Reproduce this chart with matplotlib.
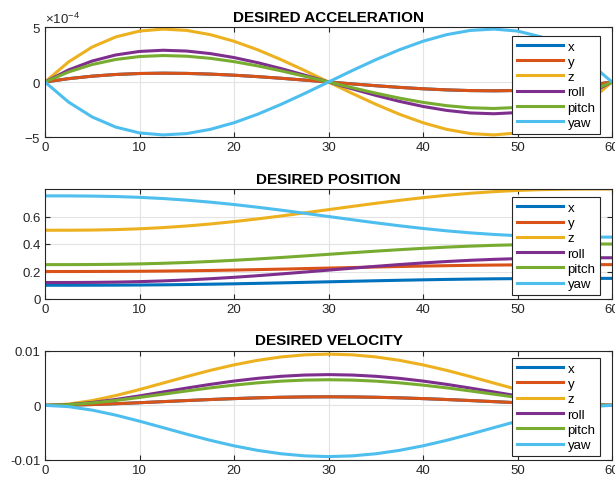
import numpy as np
import matplotlib
matplotlib.use("Agg")
import matplotlib.pyplot as plt
from matplotlib.ticker import ScalarFormatter, FormatStrFormatter

plt.rcParams['font.family'] = ['Liberation Sans', 'DejaVu Sans']
plt.rcParams['axes.unicode_minus'] = False
plt.rcParams['mathtext.fontset'] = 'custom'
plt.rcParams['mathtext.rm'] = 'Liberation Sans'
plt.rcParams['mathtext.it'] = 'Liberation Sans:italic'

# time samples (s)
t = [0, 2.5, 5, 7.5, 10, 12.5, 15, 17.5, 20, 22.5, 25, 27.5, 30,
     32.5, 35, 37.5, 40, 42.5, 45, 47.5, 50, 52.5, 55, 57.5, 60]

labels = ['x', 'y', 'z', 'roll', 'pitch', 'yaw']
colors = ['#0072BD', '#D95319', '#EDB120', '#7E2F8E', '#77AC30', '#4DBEEE']

# desired acceleration
acc_x = [0, 0.305e-4, 0.530e-4, 0.684e-4, 0.772e-4, 0.802e-4, 0.781e-4, 0.717e-4, 0.617e-4,
         0.488e-4, 0.338e-4, 0.172e-4, 0, -0.172e-4, -0.338e-4, -0.488e-4, -0.617e-4,
         -0.717e-4, -0.781e-4, -0.802e-4, -0.772e-4, -0.684e-4, -0.530e-4, -0.305e-4, 0]
acc_y = list(acc_x)
acc_z = [0, 1.830e-4, 3.183e-4, 4.102e-4, 4.630e-4, 4.810e-4, 4.688e-4, 4.304e-4, 3.704e-4,
         2.930e-4, 2.025e-4, 1.034e-4, 0, -1.034e-4, -2.025e-4, -2.930e-4, -3.704e-4,
         -4.304e-4, -4.688e-4, -4.810e-4, -4.630e-4, -4.102e-4, -3.183e-4, -1.830e-4, 0]
acc_roll = [0, 1.098e-4, 1.910e-4, 2.461e-4, 2.778e-4, 2.886e-4, 2.813e-4, 2.582e-4, 2.222e-4,
            1.758e-4, 1.215e-4, 0.621e-4, 0, -0.621e-4, -1.215e-4, -1.758e-4, -2.222e-4,
            -2.582e-4, -2.813e-4, -2.886e-4, -2.778e-4, -2.461e-4, -1.910e-4, -1.098e-4, 0]
acc_pitch = [0, 0.915e-4, 1.591e-4, 2.051e-4, 2.315e-4, 2.405e-4, 2.344e-4, 2.152e-4, 1.852e-4,
             1.465e-4, 1.013e-4, 0.517e-4, 0, -0.517e-4, -1.013e-4, -1.465e-4, -1.852e-4,
             -2.152e-4, -2.344e-4, -2.405e-4, -2.315e-4, -2.051e-4, -1.591e-4, -0.915e-4, 0]
acc_yaw = [0, -1.830e-4, -3.183e-4, -4.102e-4, -4.630e-4, -4.810e-4, -4.688e-4, -4.304e-4, -3.704e-4,
           -2.930e-4, -2.025e-4, -1.034e-4, 0, 1.034e-4, 2.025e-4, 2.930e-4, 3.704e-4,
           4.304e-4, 4.688e-4, 4.810e-4, 4.630e-4, 4.102e-4, 3.183e-4, 1.830e-4, 0]

# desired position
pos_x = [0.1000, 0.1000, 0.1003, 0.1008, 0.1018, 0.1032, 0.1052, 0.1076, 0.1105, 0.1138, 0.1173,
         0.1211, 0.1250, 0.1289, 0.1327, 0.1362, 0.1395, 0.1424, 0.1448, 0.1468, 0.1482, 0.1492,
         0.1497, 0.1500, 0.1500]
pos_y = [0.2000, 0.2000, 0.2003, 0.2008, 0.2018, 0.2032, 0.2052, 0.2076, 0.2105, 0.2138, 0.2173,
         0.2211, 0.2250, 0.2289, 0.2327, 0.2362, 0.2395, 0.2424, 0.2448, 0.2468, 0.2482, 0.2492,
         0.2497, 0.2500, 0.2500]
pos_z = [0.5000, 0.5002, 0.5015, 0.5048, 0.5106, 0.5194, 0.5311, 0.5457, 0.5630, 0.5826, 0.6040,
         0.6267, 0.6500, 0.6733, 0.6960, 0.7174, 0.7370, 0.7543, 0.7689, 0.7806, 0.7894, 0.7952,
         0.7985, 0.7998, 0.8000]
pos_roll = [0.1200, 0.1201, 0.1209, 0.1229, 0.1264, 0.1316, 0.1386, 0.1474, 0.1578, 0.1695, 0.1824,
            0.1960, 0.2100, 0.2240, 0.2376, 0.2505, 0.2622, 0.2726, 0.2814, 0.2884, 0.2936, 0.2971,
            0.2991, 0.2999, 0.3000]
pos_pitch = [0.2500, 0.2501, 0.2508, 0.2524, 0.2553, 0.2597, 0.2655, 0.2728, 0.2815, 0.2913, 0.3020,
             0.3133, 0.3250, 0.3367, 0.3480, 0.3587, 0.3685, 0.3772, 0.3845, 0.3903, 0.3947, 0.3976,
             0.3992, 0.3999, 0.4000]
pos_yaw = [0.7500, 0.7498, 0.7485, 0.7452, 0.7394, 0.7306, 0.7189, 0.7043, 0.6870, 0.6674, 0.6460,
           0.6233, 0.6000, 0.5767, 0.5540, 0.5326, 0.5130, 0.4957, 0.4811, 0.4694, 0.4606, 0.4548,
           0.4515, 0.4502, 0.4500]

# desired velocity
vel_x = [0, 0.000040, 0.000146, 0.000299, 0.000482, 0.000680, 0.000879, 0.001067, 0.001235,
         0.001373, 0.001477, 0.001541, 0.001563, 0.001541, 0.001477, 0.001373, 0.001235,
         0.001067, 0.000879, 0.000680, 0.000482, 0.000299, 0.000146, 0.000040, 0]
vel_y = list(vel_x)
vel_z = [0, 0.000239, 0.000875, 0.001794, 0.002894, 0.004080, 0.005273, 0.006402, 0.007407,
         0.008240, 0.008861, 0.009245, 0.009375, 0.009245, 0.008861, 0.008240, 0.007407,
         0.006402, 0.005273, 0.004080, 0.002894, 0.001794, 0.000875, 0.000239, 0]
vel_roll = [0, 0.000144, 0.000525, 0.001077, 0.001736, 0.002448, 0.003164, 0.003841, 0.004444,
            0.004944, 0.005317, 0.005547, 0.005625, 0.005547, 0.005317, 0.004944, 0.004444,
            0.003841, 0.003164, 0.002448, 0.001736, 0.001077, 0.000525, 0.000144, 0]
vel_pitch = [0, 0.000120, 0.000438, 0.000897, 0.001447, 0.002040, 0.002637, 0.003201, 0.003704,
             0.004120, 0.004431, 0.004623, 0.004688, 0.004623, 0.004431, 0.004120, 0.003704,
             0.003201, 0.002637, 0.002040, 0.001447, 0.000897, 0.000438, 0.000120, 0]
vel_yaw = [0, -0.000239, -0.000875, -0.001794, -0.002894, -0.004080, -0.005273, -0.006402, -0.007407,
           -0.008240, -0.008861, -0.009245, -0.009375, -0.009245, -0.008861, -0.008240, -0.007407,
           -0.006402, -0.005273, -0.004080, -0.002894, -0.001794, -0.000875, -0.000239, 0]

acc = [acc_x, acc_y, acc_z, acc_roll, acc_pitch, acc_yaw]
pos = [pos_x, pos_y, pos_z, pos_roll, pos_pitch, pos_yaw]
vel = [vel_x, vel_y, vel_z, vel_roll, vel_pitch, vel_yaw]

W, H = 615, 481
fig = plt.figure(figsize=(W / 100, H / 100), dpi=100)


def make_axes(top, bottom, left=45, right=612):
    return fig.add_axes([left / W, 1 - bottom / H, (right - left) / W, (bottom - top) / H])


def style(ax, title, ylim, yticks, leg_top):
    ax.set_xlim(0, 60)
    ax.set_xticks([0, 10, 20, 30, 40, 50, 60])
    ax.set_ylim(*ylim)
    ax.set_yticks(yticks)
    ax.grid(True, color='#e3e3e3', linewidth=0.8)
    ax.set_axisbelow(True)
    ax.tick_params(direction='in', top=True, right=True, length=3.5, width=0.8,
                   labelsize=9.5, colors='#262626', pad=3)
    for s in ax.spines.values():
        s.set_color('#262626')
        s.set_linewidth(0.8)
    ax.set_title(title, fontsize=11, fontweight='bold', pad=4.5)
    leg = ax.legend(loc='upper right', bbox_to_anchor=(0.979, leg_top), borderaxespad=0,
                    fontsize=9.5, handlelength=3.5, handletextpad=0.35, labelspacing=0.23,
                    fancybox=False, framealpha=1, edgecolor='#262626', borderpad=0.35)
    leg.get_frame().set_linewidth(0.8)


ax1 = make_axes(28, 138)
for vals, lab, c in zip(acc, labels, colors):
    ax1.plot(t, vals, color=c, lw=2.2, label=lab)
fmt = ScalarFormatter(useMathText=True)
fmt.set_powerlimits((-3, 3))
ax1.yaxis.set_major_formatter(fmt)
style(ax1, 'DESIRED ACCELERATION', (-5e-4, 5e-4), [-5e-4, 0, 5e-4], 0.921)
ax1.yaxis.get_offset_text().set_fontsize(9.5)

ax2 = make_axes(190, 300)
for vals, lab, c in zip(pos, labels, colors):
    ax2.plot(t, vals, color=c, lw=2.2, label=lab)
ax2.yaxis.set_major_formatter(FormatStrFormatter('%g'))
style(ax2, 'DESIRED POSITION', (0, 0.8), [0, 0.2, 0.4, 0.6], 0.927)

ax3 = make_axes(351.7, 461)
for vals, lab, c in zip(vel, labels, colors):
    ax3.plot(t, vals, color=c, lw=2.2, label=lab)
ax3.yaxis.set_major_formatter(FormatStrFormatter('%g'))
style(ax3, 'DESIRED VELOCITY', (-0.01, 0.01), [-0.01, 0, 0.01], 0.934)

fig.savefig('out.png', dpi=100)
